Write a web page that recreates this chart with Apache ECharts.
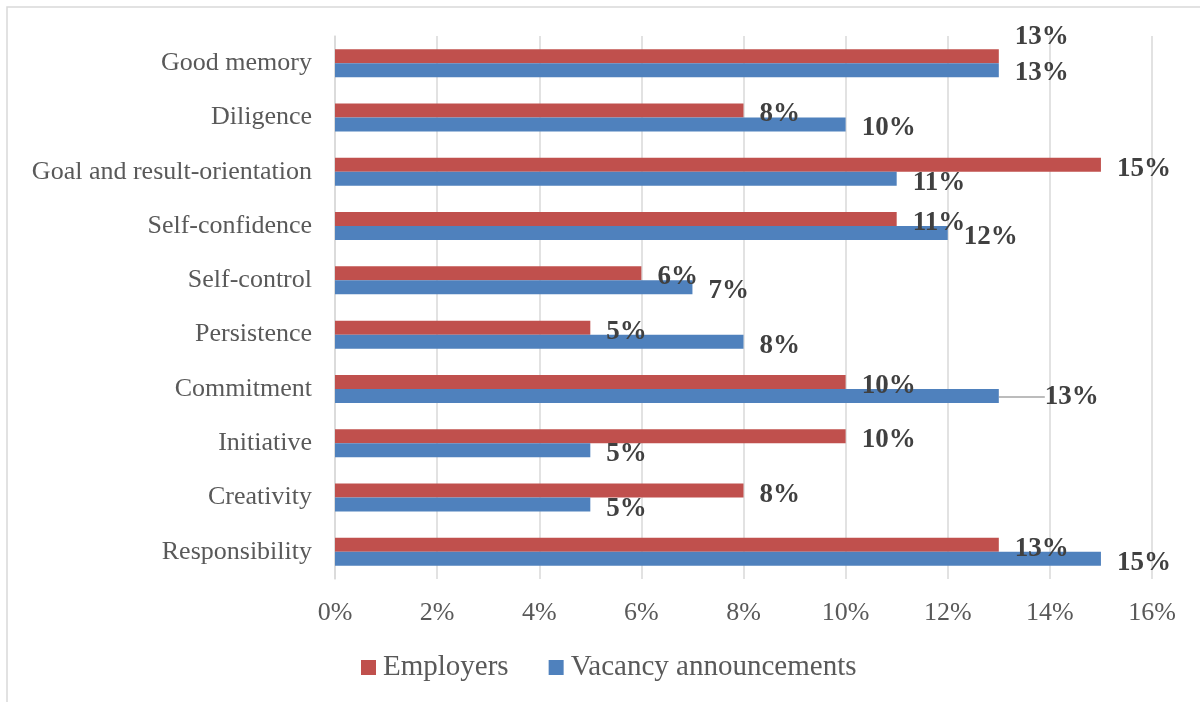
<!DOCTYPE html>
<html>
<head>
<meta charset="utf-8">
<script src="https://cdn.jsdelivr.net/npm/echarts@6/dist/echarts.min.js"></script>
<style>
html,body{margin:0;padding:0;background:#fff;}
#chart{width:1200px;height:702px;}
</style>
</head>
<body>
<div id="chart"></div>
<script>
// Categories listed bottom to top
const categories = ['Responsibility','Creativity','Initiative','Commitment','Persistence','Self-control','Self-confidence','Goal and result-orientation','Diligence','Good memory'];
const employers = [13, 8, 10, 10, 5, 6, 11, 15, 8, 13];
const vacancy = [15, 5, 5, 13, 8, 7, 12, 11, 10, 13];
const xTicks = [0, 2, 4, 6, 8, 10, 12, 14, 16];
const seriesNames = ['Employers', 'Vacancy announcements'];

const FONT = '"Liberation Serif", "Times New Roman", serif';
const chart = echarts.init(document.getElementById('chart'));

const labelStyle = {
  show: true,
  position: 'right',
  distance: 16,
  formatter: '{c}%',
  color: '#404040',
  fontFamily: FONT,
  fontWeight: 'bold',
  fontSize: 27
};

// label adjustments (layout only)
const DEFAULT_DY = 4;
const empLayout = {'Good memory': {dx: 0, dy: -19}};
const vacLayout = {'Good memory': {dx: 0, dy: 3}, 'Commitment': {dx: 30, dy: 1}};
const leaderCats = ['Commitment'];

function layoutFn(map) {
  return function (params) {
    const c = categories[params.dataIndex];
    return map[c] || {dx: 0, dy: DEFAULT_DY};
  };
}

function buildData(values, withLeaders) {
  return values.map(function (v, i) {
    const item = {value: v};
    if (withLeaders && leaderCats.indexOf(categories[i]) >= 0) {
      item.labelLine = {show: true, lineStyle: {color: '#a6a6a6', width: 1.5}};
    }
    return item;
  });
}

chart.setOption({
  animation: false,
  backgroundColor: '#ffffff',
  graphic: [{
    type: 'rect',
    shape: {x: 7, y: 7, width: 1200, height: 700},
    style: {fill: 'none', stroke: '#d9d9d9', lineWidth: 1.5},
    silent: true, z: -1
  }],
  grid: {left: 335, right: 48, top: 36, bottom: 123, containLabel: false},
  legend: {
    data: seriesNames,
    left: 356,
    top: 648,
    itemWidth: 15,
    itemHeight: 15,
    itemGap: 40,
    icon: 'rect',
    textStyle: {fontFamily: FONT, fontSize: 29, color: '#595959', padding: [0, 0, 0, 2]}
  },
  xAxis: {
    type: 'value',
    min: 0, max: 16, interval: 2,
    axisLine: {show: false},
    axisTick: {show: false},
    splitLine: {show: true, lineStyle: {color: '#d9d9d9', width: 1.5}},
    axisLabel: {
      margin: 21,
      fontFamily: FONT, fontSize: 26, color: '#595959',
      formatter: function (v) { return xTicks.indexOf(v) >= 0 ? v + '%' : ''; }
    }
  },
  yAxis: {
    type: 'category',
    data: categories,
    axisLine: {show: true, lineStyle: {color: '#d9d9d9', width: 1.5}},
    axisTick: {show: false},
    axisLabel: {margin: 23, fontFamily: FONT, fontSize: 26, color: '#595959', padding: [6, 0, 0, 0]}
  },
  series: [
    {
      name: seriesNames[0],
      type: 'bar',
      data: buildData(employers, false),
      barWidth: 14,
      barGap: '0%',
      itemStyle: {color: '#C0504D'},
      label: labelStyle,
      labelLine: {show: false},
      labelLayout: layoutFn(empLayout)
    },
    {
      name: seriesNames[1],
      type: 'bar',
      data: buildData(vacancy, true),
      barWidth: 14,
      barGap: '0%',
      itemStyle: {color: '#4F81BD'},
      label: labelStyle,
      labelLine: {show: false},
      labelLayout: layoutFn(vacLayout)
    }
  ]
});
</script>
</body>
</html>
